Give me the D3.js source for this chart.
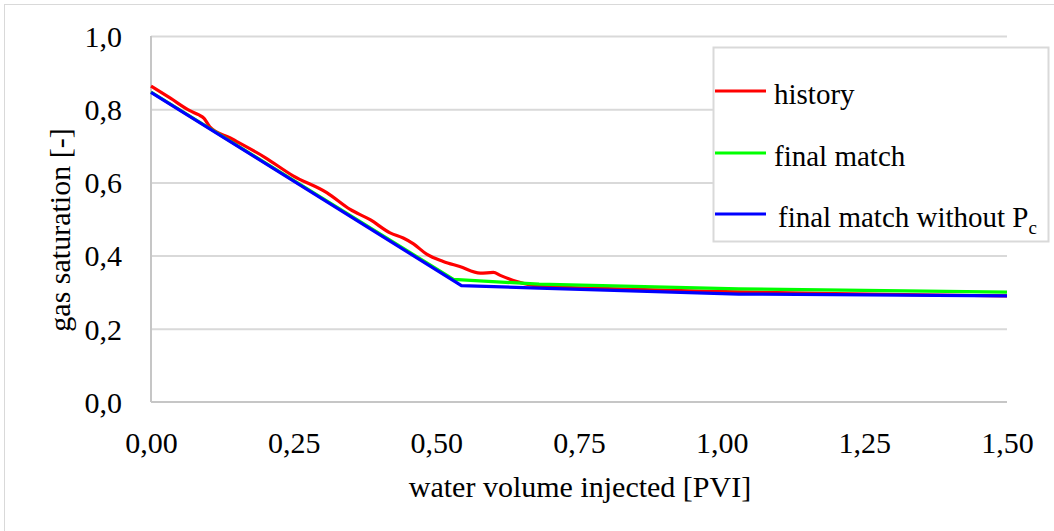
<!DOCTYPE html>
<html>
<head>
<meta charset="utf-8">
<script src="https://cdn.jsdelivr.net/npm/d3@7"></script>
<style>
  body { margin: 0; background: #fff; }
</style>
</head>
<body>
<svg id="chart" width="1054" height="531"></svg>
<script>
// ************************************
// Data
// ************************************
const xTicks = [0, 0.25, 0.5, 0.75, 1.0, 1.25, 1.5];
const yTicks = [0, 0.2, 0.4, 0.6, 0.8, 1.0];

const historyPVI = [0, 0.034, 0.068, 0.083, 0.093, 0.103, 0.138, 0.20, 0.249, 0.308, 0.349, 0.384,
                    0.419, 0.442, 0.46, 0.483, 0.512, 0.541, 0.577, 0.600, 0.612, 0.641, 0.68,
                    0.80, 0.96, 1.20, 1.50];
const historySg  = [0.863, 0.830, 0.796, 0.785, 0.775, 0.752, 0.722, 0.668, 0.618, 0.572, 0.526, 0.498,
                    0.462, 0.448, 0.432, 0.404, 0.384, 0.370, 0.352, 0.354, 0.346, 0.329, 0.316,
                    0.310, 0.303, 0.296, 0.290];

const finalPVI = [0, 0.53, 0.68, 1.03, 1.50];
const finalSg  = [0.847, 0.335, 0.322, 0.309, 0.300];

const noPcPVI = [0, 0.544, 0.68, 1.03, 1.50];
const noPcSg  = [0.846, 0.318, 0.311, 0.295, 0.290];

const seriesNames  = ["history", "final match", "final match without P"];
const seriesColors = ["#ff0000", "#00ff00", "#0000ff"];

// ************************************
// Layout
// ************************************
const FONT = "'Liberation Serif', 'Times New Roman', 'DejaVu Serif', serif";
const svg = d3.select("#chart");
const plotLeft = 151, plotRight = 1007, plotTop = 36, plotBottom = 402;

const x = d3.scaleLinear().domain([0, 1.5]).range([plotLeft, plotRight]);
const y = d3.scaleLinear().domain([0, 1]).range([plotBottom, plotTop]);

const fmtX = d => d3.format(".2f")(d).replace(".", ",");
const fmtY = d => d3.format(".1f")(d).replace(".", ",");

// outer chart frame
svg.append("rect")
    .attr("x", 4.5).attr("y", 4.5)
    .attr("width", 1100).attr("height", 600)
    .attr("fill", "none")
    .attr("stroke", "#d9d9d9");

// horizontal gridlines
svg.append("g")
    .attr("class", "grid")
    .attr("transform", `translate(${plotLeft},0)`)
    .call(d3.axisLeft(y).tickValues(yTicks.slice(1)).tickSize(-(plotRight - plotLeft)).tickFormat(""))
    .call(g => g.select(".domain").remove())
    .call(g => g.selectAll("line").attr("stroke", "#d9d9d9").attr("stroke-width", 2));

// axis lines
svg.append("line")
    .attr("x1", plotLeft).attr("x2", plotLeft).attr("y1", plotTop).attr("y2", plotBottom)
    .attr("stroke", "#c6c6c6").attr("stroke-width", 2);
svg.append("line")
    .attr("x1", plotLeft).attr("x2", plotRight).attr("y1", plotBottom).attr("y2", plotBottom)
    .attr("stroke", "#c6c6c6").attr("stroke-width", 2);

// tick labels
const yAxis = svg.append("g")
    .attr("class", "y axis")
    .attr("transform", `translate(122,0)`)
    .call(d3.axisLeft(y).tickValues(yTicks).tickFormat(fmtY).tickSize(0).tickPadding(0));
yAxis.select(".domain").remove();
yAxis.attr("font-family", null).attr("font-size", null);
yAxis.selectAll("text").style("font-family", FONT).style("font-size", "30px").attr("dy", "0.34em").attr("fill", "#000");

const xAxis = svg.append("g")
    .attr("class", "x axis")
    .attr("transform", `translate(0,${plotBottom + 30})`)
    .call(d3.axisBottom(x).tickValues(xTicks).tickFormat(fmtX).tickSize(0).tickPadding(0));
xAxis.select(".domain").remove();
xAxis.attr("font-family", null).attr("font-size", null);
xAxis.selectAll("text").style("font-family", FONT).style("font-size", "30px").attr("dy", "0.7em").attr("fill", "#000");

// axis titles
svg.append("text")
    .attr("x", 580).attr("y", 497)
    .attr("text-anchor", "middle")
    .style("font-family", FONT)
    .style("font-size", "30px")
    .text("water volume injected [PVI]");

svg.append("text")
    .attr("transform", "translate(70,230) rotate(-90)")
    .attr("text-anchor", "middle")
    .style("font-family", FONT)
    .style("font-size", "30px")
    .text("gas saturation [-]");

// ************************************
// Series
// ************************************
const seriesData = [
    d3.zip(historyPVI, historySg),
    d3.zip(finalPVI, finalSg),
    d3.zip(noPcPVI, noPcSg)
];

const line = d3.line().x(d => x(d[0])).y(d => y(d[1]));
const smooth = d3.line().x(d => x(d[0])).y(d => y(d[1])).curve(d3.curveMonotoneX);

svg.selectAll(".series")
    .data(seriesData)
    .enter()
    .append("path")
    .attr("class", "series")
    .attr("d", (d, i) => i === 0 ? smooth(d) : line(d))
    .attr("fill", "none")
    .attr("stroke", (d, i) => seriesColors[i])
    .attr("stroke-width", 3.2)
    .attr("stroke-linejoin", "round");

// ************************************
// Legend
// ************************************
svg.append("rect")
    .attr("x", 713.5).attr("y", 47.5)
    .attr("width", 335).attr("height", 194)
    .attr("fill", "#fff")
    .attr("stroke", "#d9d9d9")
    .attr("stroke-width", 2);

const legendY = [91, 153, 214];
const items = svg.selectAll(".legend-item")
    .data(seriesNames)
    .enter()
    .append("g")
    .attr("class", "legend-item")
    .attr("transform", (d, i) => `translate(715,${legendY[i]})`);

items.append("line")
    .attr("x1", 0).attr("x2", 51)
    .attr("stroke", (d, i) => seriesColors[i])
    .attr("stroke-width", 3.2);

const labels = items.append("text")
    .attr("x", (d, i) => i === 2 ? 63 : 59)
    .attr("y", 13)
    .style("font-family", FONT)
    .style("font-size", "29px")
    .text(d => d);

labels.filter((d, i) => i === 2)
    .append("tspan")
    .attr("dy", 7)
    .style("font-size", "19px")
    .text("c");
</script>
</body>
</html>
